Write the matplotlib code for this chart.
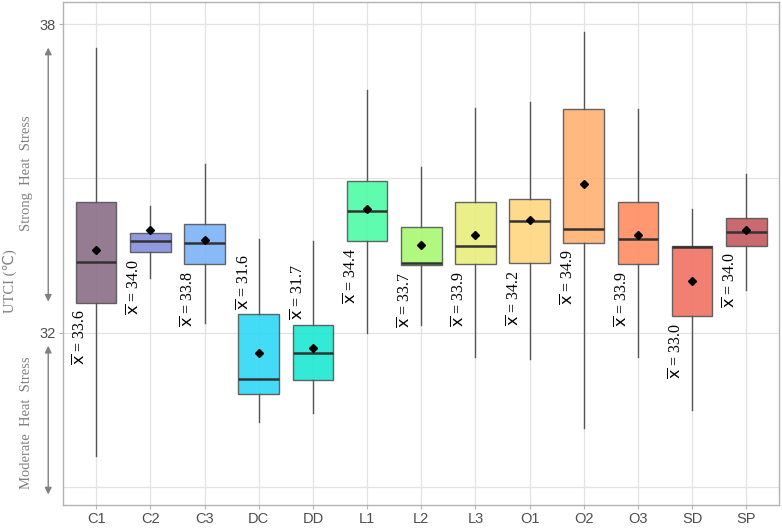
import matplotlib
matplotlib.use("Agg")
import matplotlib.pyplot as plt
import numpy as np

# values (UTCI, deg C)
sites = ["C1", "C2", "C3", "DC", "DD", "L1", "L2", "L3", "O1", "O2", "O3", "SD", "SP"]
whis_hi = [37.53, 34.46, 35.28, 33.83, 33.78, 36.73, 35.23, 36.37, 36.48, 37.85, 36.36, 34.41, 35.09]
q3 = [34.55, 33.94, 34.11, 32.36, 32.16, 34.95, 34.06, 34.55, 34.60, 36.35, 34.55, 33.68, 34.24]
medians = [33.37, 33.79, 33.74, 31.10, 31.60, 34.36, 33.36, 33.68, 34.17, 34.01, 33.83, 33.66, 33.95]
q1 = [32.58, 33.57, 33.33, 30.81, 31.09, 33.78, 33.31, 33.33, 33.35, 33.75, 33.33, 32.32, 33.69]
whis_lo = [29.60, 33.06, 32.19, 30.27, 30.44, 32.00, 32.16, 31.53, 31.49, 30.15, 31.53, 30.49, 32.84]
means = [33.6, 34.0, 33.8, 31.6, 31.7, 34.4, 33.7, 33.9, 34.2, 34.9, 33.9, 33.0, 34.0]
label_above = [False, False, False, True, True, False, False, False, False, False, False, False, False]

colors = ["#8A6E86", "#8490DC", "#7AB3F7", "#2ED8F6", "#1CE8D2", "#4EFCA8", "#A8F871",
          "#E8EE7C", "#FFD680", "#FFB272", "#FF8D62", "#F07264", "#C55A60"]

fig = plt.figure(figsize=(7.82, 5.31), dpi=100)
ax = fig.add_axes([0.080, 0.049, 0.916, 0.947])

stats = []
for i in range(len(sites)):
    stats.append({"label": sites[i], "whislo": whis_lo[i], "q1": q1[i], "med": medians[i],
                  "q3": q3[i], "whishi": whis_hi[i], "mean": means[i], "fliers": []})

pos = np.arange(len(sites))
bp = ax.bxp(stats, positions=pos, widths=0.75, patch_artist=True, showmeans=True,
            showcaps=False, zorder=3,
            boxprops=dict(edgecolor="#555555", linewidth=1.0),
            whiskerprops=dict(color="#555555", linewidth=1.0),
            medianprops=dict(color="#333333", linewidth=1.8),
            meanprops=dict(marker="D", markerfacecolor="black", markeredgecolor="black",
                           markersize=4.5))
for patch, c in zip(bp["boxes"], colors):
    patch.set_facecolor(c)
    patch.set_alpha(0.9)
    patch.set_edgecolor("#555555")

# mean labels
for i in range(len(sites)):
    txt = r"$\overline{\mathsf{x}}$" + " = {:.1f}".format(means[i])
    if label_above[i]:
        ax.text(i - 0.25, q3[i] + 0.08, txt, rotation=90, ha="center", va="bottom",
                family="Liberation Serif", fontsize=11.5, zorder=4)
    else:
        ax.text(i - 0.27, q1[i] - 0.13, txt, rotation=90, ha="center", va="top",
                family="Liberation Serif", fontsize=11.5, zorder=4)

ax.set_xlim(-0.62, 12.6)
ax.set_ylim(28.65, 38.43)
ax.set_xticks(pos)
ax.set_xticklabels(sites, family="Liberation Sans", fontsize=10.5, color="#4D4D4D")
ax.set_yticks([32, 38])
ax.set_yticklabels(["32", "38"], family="Liberation Sans", fontsize=10.5, color="#4D4D4D")
ax.set_yticks([29, 35], minor=True)
ax.tick_params(axis="both", which="major", length=3, color="#B3B3B3", pad=2)
ax.tick_params(axis="y", which="minor", length=0)
ax.grid(True, which="both", color="#E3E3E3", linewidth=0.9, zorder=0)
ax.set_axisbelow(True)
for s in ax.spines.values():
    s.set_color("#B3B3B3")
    s.set_linewidth(1.0)

# stress band arrows and labels on the left
trans = ax.get_yaxis_transform()
ax.annotate("", xy=(-0.02, 37.6), xytext=(-0.02, 32.55), xycoords=trans, textcoords=trans,
            arrowprops=dict(arrowstyle="<|-|>", color="#808080", lw=1.0, mutation_scale=10),
            annotation_clip=False)
ax.annotate("", xy=(-0.02, 31.8), xytext=(-0.02, 28.8), xycoords=trans, textcoords=trans,
            arrowprops=dict(arrowstyle="<|-|>", color="#808080", lw=1.0, mutation_scale=10),
            annotation_clip=False)
ax.text(-0.05, 35.1, "Strong  Heat  Stress", transform=trans, rotation=90, ha="center",
        va="center", family="Liberation Serif", fontsize=10.5, color="#808080")
ax.text(-0.05, 30.25, "Moderate  Heat  Stress", transform=trans, rotation=90, ha="center",
        va="center", family="Liberation Serif", fontsize=10.5, color="#808080")
fig.text(0.013, 0.47, "UTCI (\u2103)", rotation=90, ha="center", va="center",
         family=["Liberation Serif", "DejaVu Sans"], fontsize=10.5, color="#808080")

fig.savefig("out.png", dpi=100)
